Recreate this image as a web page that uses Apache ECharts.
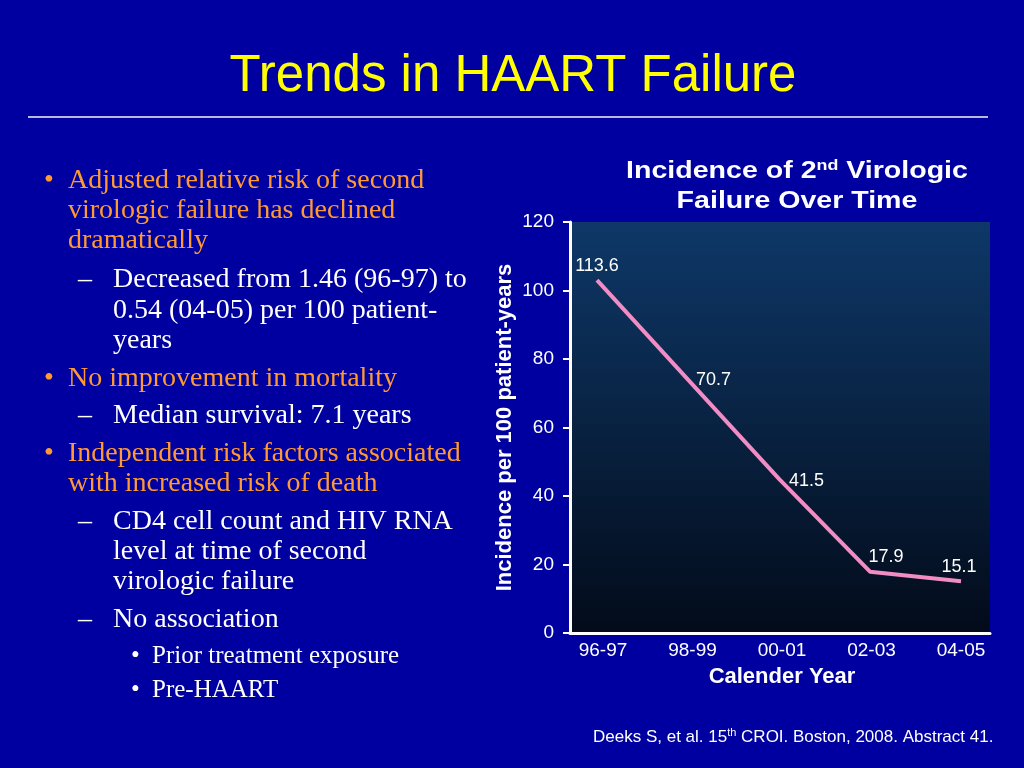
<!DOCTYPE html>
<html>
<head>
<meta charset="utf-8">
<style>
html,body{margin:0;padding:0;background:#0000a0;}
#c{width:1024px;height:768px;}
</style>
<script src="https://cdn.jsdelivr.net/npm/echarts@6/dist/echarts.min.js"></script>
</head>
<body>
<div id="c"></div>
<script>
var categories = ['96-97', '98-99', '00-01', '02-03', '04-05'];
var plottedValues = [103, 74, 45, 17.9, 15.1];
var pointLabels = ['113.6', '70.7', '41.5', '17.9', '15.1'];
var yTicks = [0, 20, 40, 60, 80, 100, 120];

var labelStyle = [
  {position: 'top', distance: 5, offset: [0, 0]},
  {position: 'right', distance: 8, offset: [0, 0]},
  {position: 'right', distance: 10, offset: [0, 2]},
  {position: 'top', distance: 6, offset: [16, 0]},
  {position: 'top', distance: 5, offset: [-2, 0]}
];

var chart = echarts.init(document.getElementById('c'));

var serif = '"Liberation Serif", "Times New Roman", serif';
var sans = '"Liberation Sans", Arial, sans-serif';

function t(x, y, text, color, size) {
  return {type: 'text', x: x, y: y, z: 10,
    style: {text: text, fill: color, font: size + 'px ' + serif, verticalAlign: 'middle', align: 'left'}};
}

var orange = '#ff9a33';
var white = '#ffffff';
var B = 28, S = 25;
var graphics = [
  {type: 'text', x: 513, y: 77, style: {text: 'Trends in HAART Failure', fill: '#ffff00', font: '51px ' + sans, align: 'center', verticalAlign: 'middle'}},
  {type: 'line', shape: {x1: 28, y1: 117, x2: 988, y2: 117}, style: {stroke: '#b8b8d8', lineWidth: 2}},
  t(44, 181, '•', orange, B),
  t(68, 181, 'Adjusted relative risk of second', orange, B),
  t(68, 211, 'virologic failure has declined', orange, B),
  t(68, 241, 'dramatically', orange, B),
  t(78, 280, '–', white, B),
  t(113, 280, 'Decreased from 1.46 (96-97) to', white, B),
  t(113, 311, '0.54 (04-05) per 100 patient-', white, B),
  t(113, 341, 'years', white, B),
  t(44, 379, '•', orange, B),
  t(68, 379, 'No improvement in mortality', orange, B),
  t(78, 416, '–', white, B),
  t(113, 416, 'Median survival: 7.1 years', white, B),
  t(44, 454, '•', orange, B),
  t(68, 454, 'Independent risk factors associated', orange, B),
  t(68, 484, 'with increased risk of death', orange, B),
  t(78, 522, '–', white, B),
  t(113, 522, 'CD4 cell count and HIV RNA', white, B),
  t(113, 552, 'level at time of second', white, B),
  t(113, 582, 'virologic failure', white, B),
  t(78, 620, '–', white, B),
  t(113, 620, 'No association', white, B),
  t(131, 656, '•', white, S),
  t(152, 656, 'Prior treatment exposure', white, S),
  t(131, 690, '•', white, S),
  t(152, 690, 'Pre-HAART', white, S),
  {type: 'text', x: 593, y: 737, style: {
    text: '{n|Deeks S, et al. 15}{s|th}{n| CROI. Boston, 2008. Abstract 41.}',
    verticalAlign: 'middle', align: 'left',
    rich: {n: {fill: white, font: '17px ' + sans}, s: {fill: white, font: '11px ' + sans, padding: [0, 0, 8, 0]}}
  }},
  {type: 'text', x: 797, y: 171, scaleX: 1.19, style: {
    text: '{n|Incidence of 2}{s|nd}{n| Virologic}', align: 'center', verticalAlign: 'middle',
    rich: {n: {fill: white, font: 'bold 24px ' + sans}, s: {fill: white, font: 'bold 15px ' + sans, padding: [0, 0, 10, 0]}}
  }},
  {type: 'text', x: 797, y: 201, scaleX: 1.19, style: {text: 'Failure Over Time', fill: white, font: 'bold 24px ' + sans, align: 'center', verticalAlign: 'middle'}}
];

var data = plottedValues.map(function (v, i) {
  var ls = labelStyle[i];
  return {value: v, label: {show: true, formatter: pointLabels[i], position: ls.position, distance: ls.distance, offset: ls.offset}};
});

chart.setOption({
  backgroundColor: '#0000a0',
  animation: false,
  graphic: graphics,
  grid: [
    {left: 570, right: 34, top: 222, bottom: 135, show: true, borderWidth: 0,
      backgroundColor: new echarts.graphic.LinearGradient(0, 0, 0, 1, [
        {offset: 0, color: '#0e3868'}, {offset: 1, color: '#030b1a'}])},
    {left: 597, right: 63, top: 222, bottom: 135},
    {left: 603, right: 63, top: 222, bottom: 135}
  ],
  xAxis: [
    {type: 'category', gridIndex: 0, data: categories, axisLine: {lineStyle: {color: white, width: 3}},
      axisTick: {show: false}, axisLabel: {show: false}},
    {type: 'category', gridIndex: 1, data: categories, boundaryGap: false, show: false},
    {type: 'category', gridIndex: 2, data: categories, boundaryGap: false,
      axisLine: {show: false}, axisTick: {show: false},
      axisLabel: {color: white, fontSize: 19, fontFamily: sans, margin: 8},
      name: 'Calender Year', nameLocation: 'middle', nameGap: 33,
      nameTextStyle: {color: white, fontSize: 22, fontWeight: 'bold', fontFamily: sans}}
  ],
  yAxis: [
    {type: 'value', gridIndex: 0, min: yTicks[0], max: yTicks[yTicks.length - 1], interval: yTicks[1] - yTicks[0],
      axisLine: {show: true, lineStyle: {color: white, width: 3}},
      axisTick: {show: true, length: 7, lineStyle: {color: white, width: 2}},
      splitLine: {show: false},
      axisLabel: {color: white, fontSize: 19, fontFamily: sans, margin: 16},
      name: 'Incidence per 100 patient-years', nameLocation: 'middle', nameGap: 54, nameRotate: 90,
      nameTextStyle: {color: white, fontSize: 22, fontWeight: 'bold', fontFamily: sans}},
    {type: 'value', gridIndex: 1, min: yTicks[0], max: yTicks[yTicks.length - 1], show: false},
    {type: 'value', gridIndex: 2, min: yTicks[0], max: yTicks[yTicks.length - 1], show: false}
  ],
  series: [{
    type: 'line', xAxisIndex: 1, yAxisIndex: 1, data: data,
    symbol: 'circle', symbolSize: 0.01, showSymbol: true, itemStyle: {color: '#f28cc4'},
    lineStyle: {color: '#f28cc4', width: 4},
    label: {show: true, color: white, fontSize: 18, fontFamily: sans}
  }]
});
</script>
</body>
</html>
